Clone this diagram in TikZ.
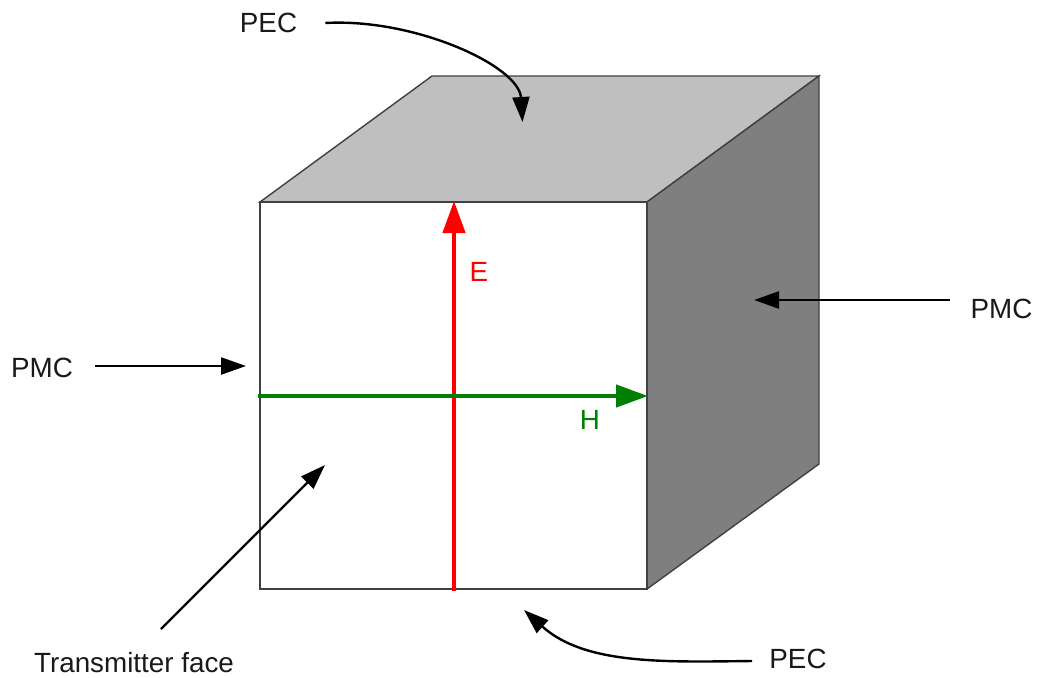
\documentclass[tikz,border=0pt]{standalone}
\usepackage{fontspec}
\setmainfont{Liberation Sans}
\usetikzlibrary{arrows.meta}
\definecolor{topgrey}{HTML}{BFBFBF}
\definecolor{sidegrey}{HTML}{7F7F7F}
\definecolor{edgegrey}{HTML}{404040}
\definecolor{fieldgreen}{HTML}{008000}
\tikzset{
  face/.style={draw=edgegrey,line width=1.4pt,line join=miter},
  lbl/.style={inner sep=0pt,font=\fontsize{27.8}{30}\selectfont,text=black!90},
  callout/.style={black,line width=2.4pt,-{Triangle[length=25pt,width=17pt]}},
  field/.style={line width=4.4pt,-{Triangle[length=32pt,width=22pt]}},
}
\begin{document}
\begin{tikzpicture}[x=1pt,y=-1pt]
\useasboundingbox (0,0) rectangle (1038,677);
\coordinate (fa) at (260,202);
\coordinate (fb) at (647,202);
\coordinate (fc) at (647,589);
\coordinate (fd) at (260,589);
\coordinate (ta) at (432,76);
\coordinate (tb) at (819,76);
\coordinate (rc) at (819,464);
\filldraw[face,fill=topgrey] (fa) -- (ta) -- (tb) -- (fb) -- cycle;
\filldraw[face,fill=sidegrey] (fb) -- (tb) -- (rc) -- (fc) -- cycle;
\filldraw[face,fill=white] (fa) -- (fb) -- (fc) -- (fd) -- cycle;
% field arrows
\coordinate (ebot) at (454,591);
\coordinate (etop) at (454,201);
\coordinate (hl) at (258,396);
\coordinate (hr) at (648,396);
\draw[field,red] (ebot) -- (etop);
\draw[field,fieldgreen] (hl) -- (hr);
\node[lbl,text=red] (E) at (479,272) {E};
\node[lbl,text=fieldgreen] (H) at (590,420) {H};
% labels
\node[lbl] (pectop) at (268.5,23) {PEC};
\node[lbl] (pmcr) at (1001.5,309) {PMC};
\node[lbl] (pmcl) at (42,368) {PMC};
\node[lbl] (tx) at (134,663) {Transmitter face};
\node[lbl] (pecbot) at (798,659) {PEC};
% targets
\coordinate (tgtop) at (522.5,122);
\coordinate (tgright) at (754,300);
\coordinate (tgleft) at (246,366);
\coordinate (tgface) at (325,465);
\coordinate (tgbot) at (524,610);
\coordinate (pectopS) at ([xshift=28pt]pectop.east);
\coordinate (pecbotS) at ([xshift=-17pt]pecbot.west);
\draw[callout] (pectopS |- 0,23) .. controls (415,18) and (519,66) .. (tgtop);
\draw[callout] (pecbotS |- 0,661) .. controls (665,662) and (585,665) .. (tgbot);
\draw[callout] (950,300) -- (tgright);
\draw[callout] (95,366) -- (tgleft);
\draw[callout] (161,629) -- (tgface);
\end{tikzpicture}
\end{document}
